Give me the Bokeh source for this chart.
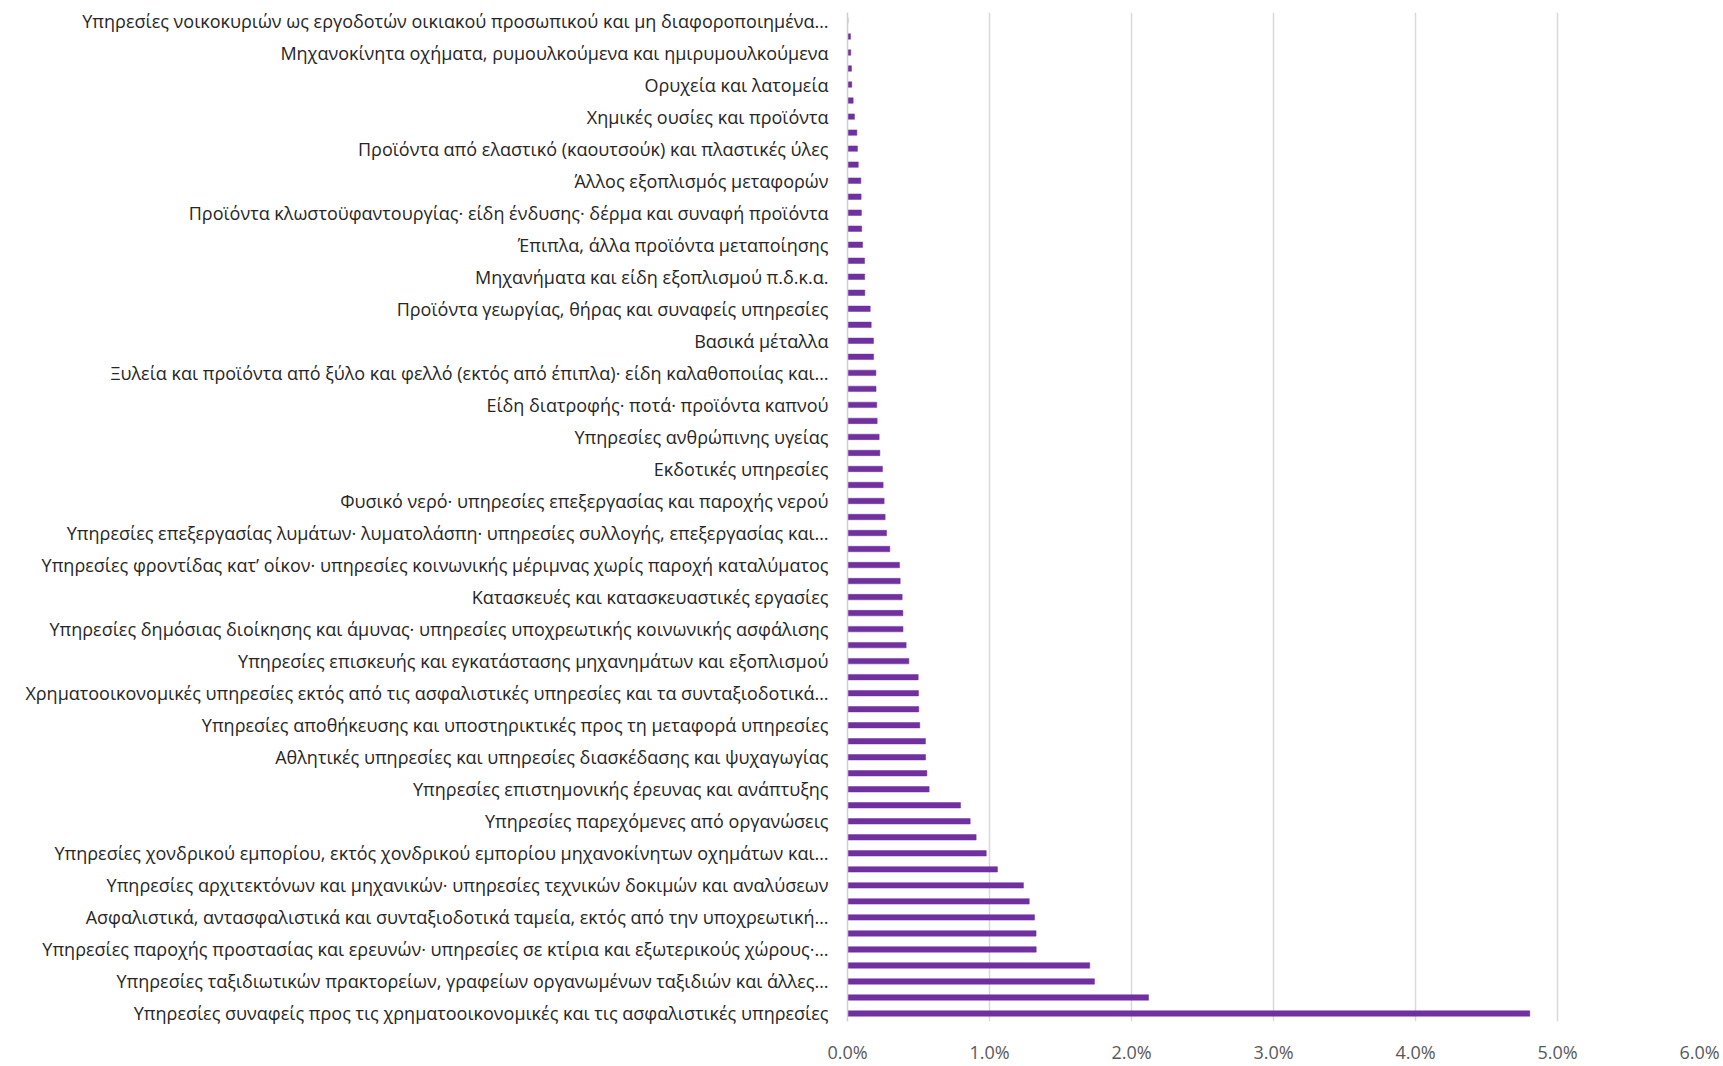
from bokeh.plotting import figure
from bokeh.models import ColumnDataSource, FixedTicker, Range1d, PrintfTickFormatter
from bokeh.embed import file_html
from bokeh.resources import INLINE

# Category labels (every second bar is labelled), listed top to bottom
labels = [
    "Υπηρεσίες νοικοκυριών ως εργοδοτών οικιακού προσωπικού και μη διαφοροποιημένα…",
    "Μηχανοκίνητα οχήματα, ρυμουλκούμενα και ημιρυμουλκούμενα",
    "Ορυχεία και λατομεία",
    "Χημικές ουσίες και προϊόντα",
    "Προϊόντα από ελαστικό (καουτσούκ) και πλαστικές ύλες",
    "Άλλος εξοπλισμός μεταφορών",
    "Προϊόντα κλωστοϋφαντουργίας· είδη ένδυσης· δέρμα και συναφή προϊόντα",
    "Έπιπλα, άλλα προϊόντα μεταποίησης",
    "Μηχανήματα και είδη εξοπλισμού π.δ.κ.α.",
    "Προϊόντα γεωργίας, θήρας και συναφείς υπηρεσίες",
    "Βασικά μέταλλα",
    "Ξυλεία και προϊόντα από ξύλο και φελλό (εκτός από έπιπλα)· είδη καλαθοποιίας και…",
    "Είδη διατροφής· ποτά· προϊόντα καπνού",
    "Υπηρεσίες ανθρώπινης υγείας",
    "Εκδοτικές υπηρεσίες",
    "Φυσικό νερό· υπηρεσίες επεξεργασίας και παροχής νερού",
    "Υπηρεσίες επεξεργασίας λυμάτων· λυματολάσπη· υπηρεσίες συλλογής, επεξεργασίας και…",
    "Υπηρεσίες φροντίδας κατ’ οίκον· υπηρεσίες κοινωνικής μέριμνας χωρίς παροχή καταλύματος",
    "Κατασκευές και κατασκευαστικές εργασίες",
    "Υπηρεσίες δημόσιας διοίκησης και άμυνας· υπηρεσίες υποχρεωτικής κοινωνικής ασφάλισης",
    "Υπηρεσίες επισκευής και εγκατάστασης μηχανημάτων και εξοπλισμού",
    "Χρηματοοικονομικές υπηρεσίες εκτός από τις ασφαλιστικές υπηρεσίες και τα συνταξιοδοτικά…",
    "Υπηρεσίες αποθήκευσης και υποστηρικτικές προς τη μεταφορά υπηρεσίες",
    "Αθλητικές υπηρεσίες και υπηρεσίες διασκέδασης και ψυχαγωγίας",
    "Υπηρεσίες επιστημονικής έρευνας και ανάπτυξης",
    "Υπηρεσίες παρεχόμενες από οργανώσεις",
    "Υπηρεσίες χονδρικού εμπορίου, εκτός χονδρικού εμπορίου μηχανοκίνητων οχημάτων και…",
    "Υπηρεσίες αρχιτεκτόνων και μηχανικών· υπηρεσίες τεχνικών δοκιμών και αναλύσεων",
    "Ασφαλιστικά, αντασφαλιστικά και συνταξιοδοτικά ταμεία, εκτός από την υποχρεωτική…",
    "Υπηρεσίες παροχής προστασίας και ερευνών· υπηρεσίες σε κτίρια και εξωτερικούς χώρους·…",
    "Υπηρεσίες ταξιδιωτικών πρακτορείων, γραφείων οργανωμένων ταξιδιών και άλλες…",
    "Υπηρεσίες συναφείς προς τις χρηματοοικονομικές και τις ασφαλιστικές υπηρεσίες",
]

# Bar values in percent, listed top to bottom (63 bars)
values = [
    0.003, 0.021, 0.023, 0.028, 0.030, 0.040, 0.049, 0.066, 0.070, 0.076,
    0.094, 0.096, 0.098, 0.100, 0.106, 0.120, 0.121, 0.122, 0.160, 0.167,
    0.183, 0.184, 0.200, 0.201, 0.206, 0.209, 0.223, 0.228, 0.246, 0.251,
    0.258, 0.265, 0.275, 0.298, 0.366, 0.371, 0.385, 0.390, 0.391, 0.413,
    0.432, 0.498, 0.500, 0.502, 0.509, 0.549, 0.550, 0.559, 0.575, 0.796,
    0.864, 0.906, 0.977, 1.056, 1.239, 1.280, 1.317, 1.328, 1.329, 1.706,
    1.739, 2.120, 4.805,
]

# Value-axis ticks (percent)
x_ticks = [0, 1, 2, 3, 4, 5, 6]

n = len(values)
ypos = [n - 1 - i for i in range(n)]
source = ColumnDataSource(dict(y=ypos, v=values))

p = figure(
    width=1723, height=1066,
    output_backend="svg", toolbar_location=None,
    x_range=Range1d(x_ticks[0], x_ticks[-1]),
    y_range=Range1d(-0.5, n - 0.5),
    min_border_left=847, min_border_right=24,
    min_border_top=12, min_border_bottom=36,
)
p.outline_line_color = None
p.background_fill_color = "white"
p.border_fill_color = "white"

p.hbar(y="y", left=0, right="v", height=0.34, source=source,
       fill_color="#7030A0", line_color="#7030A0", line_width=0.5)

# Y (category) axis
tick_pos = [n - 1 - 2 * i for i in range(len(labels))]
p.yaxis.ticker = FixedTicker(ticks=tick_pos)
p.yaxis.major_label_overrides = {pos: lab for pos, lab in zip(tick_pos, labels)}
p.yaxis.major_label_text_font = "Open Sans"
p.yaxis.major_label_text_font_size = "18px"
p.yaxis.major_label_text_color = "#262626"
p.yaxis.major_label_standoff = 19
p.yaxis.major_tick_out = 0
p.yaxis.major_tick_in = 0
p.yaxis.major_tick_line_color = None
p.yaxis.minor_tick_line_color = None
p.yaxis.axis_line_color = "#d0d0d0"
p.yaxis.axis_line_width = 1.5
p.ygrid.grid_line_color = None

# X (value) axis
p.xaxis.ticker = FixedTicker(ticks=x_ticks)
p.xaxis.formatter = PrintfTickFormatter(format="%.1f%%")
p.xaxis.major_label_text_font = "Open Sans"
p.xaxis.major_label_text_font_size = "18px"
p.xaxis.major_label_text_color = "#595959"
p.xaxis.major_label_standoff = 18
p.xaxis.major_tick_out = 0
p.xaxis.major_tick_in = 0
p.xaxis.major_tick_line_color = None
p.xaxis.minor_tick_line_color = None
p.xaxis.axis_line_color = None
p.xgrid.grid_line_color = "#d9d9d9"
p.xgrid.grid_line_width = 1.5

open("out.html", "w").write(file_html(p, INLINE))
